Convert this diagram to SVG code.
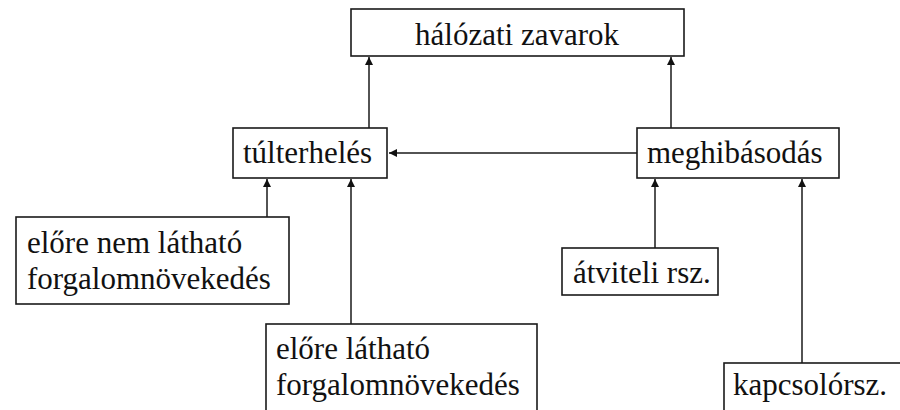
<svg xmlns="http://www.w3.org/2000/svg" width="900" height="410" viewBox="0 0 900 410">
  <style>
    .box { fill: #ffffff; stroke: #1a1a1a; stroke-width: 1.6; }
    .lbl { font-family: "Liberation Serif", "Times New Roman", "DejaVu Serif", serif; font-size: 31px; fill: #111111; }
    .edge { stroke: #1a1a1a; stroke-width: 1.5; fill: none; marker-end: url(#arrow); }
  </style>
  <defs>
    <marker id="arrow" viewBox="0 0 10 10" refX="10" refY="5" markerWidth="8" markerHeight="8" markerUnits="userSpaceOnUse" orient="auto">
      <path d="M0,0 L10,5 L0,10 z" fill="#111111"/>
    </marker>
  </defs>
  <rect width="900" height="410" fill="#ffffff"/>

  <!-- connectors -->
  <g id="connectors">
    <line class="edge" x1="369" y1="128" x2="369" y2="57"/>
    <line class="edge" x1="671" y1="128" x2="671" y2="57"/>
    <line class="edge" x1="637" y1="153" x2="389" y2="153"/>
    <line class="edge" x1="267" y1="217" x2="267" y2="179"/>
    <line class="edge" x1="351" y1="324" x2="351" y2="179"/>
    <line class="edge" x1="655" y1="248" x2="655" y2="179"/>
    <line class="edge" x1="802" y1="363" x2="802" y2="179"/>
  </g>

  <g id="halozati-zavarok">
    <rect class="box" x="351" y="9" width="333" height="47"/>
    <text class="lbl" x="517" y="45" text-anchor="middle">hálózati zavarok</text>
  </g>

  <g id="tulterheles">
    <rect class="box" x="233" y="128" width="154" height="50"/>
    <text class="lbl" x="243" y="163">túlterhelés</text>
  </g>

  <g id="meghibasodas">
    <rect class="box" x="637" y="128" width="202" height="50"/>
    <text class="lbl" x="647" y="163">meghibásodás</text>
  </g>

  <g id="elore-nem-lathato">
    <rect class="box" x="16" y="217" width="273" height="87"/>
    <text class="lbl" x="27" y="253">előre nem látható</text>
    <text class="lbl" x="27" y="289">forgalomnövekedés</text>
  </g>

  <g id="elore-lathato">
    <rect class="box" x="266" y="324" width="271" height="100"/>
    <text class="lbl" x="276" y="359">előre látható</text>
    <text class="lbl" x="276" y="395">forgalomnövekedés</text>
  </g>

  <g id="atviteli">
    <rect class="box" x="562" y="248" width="156" height="47"/>
    <text class="lbl" x="573" y="283">átviteli rsz.</text>
  </g>

  <g id="kapcsolo">
    <rect class="box" x="724" y="363" width="190" height="60"/>
    <text class="lbl" x="733" y="395">kapcsolórsz.</text>
  </g>
</svg>
